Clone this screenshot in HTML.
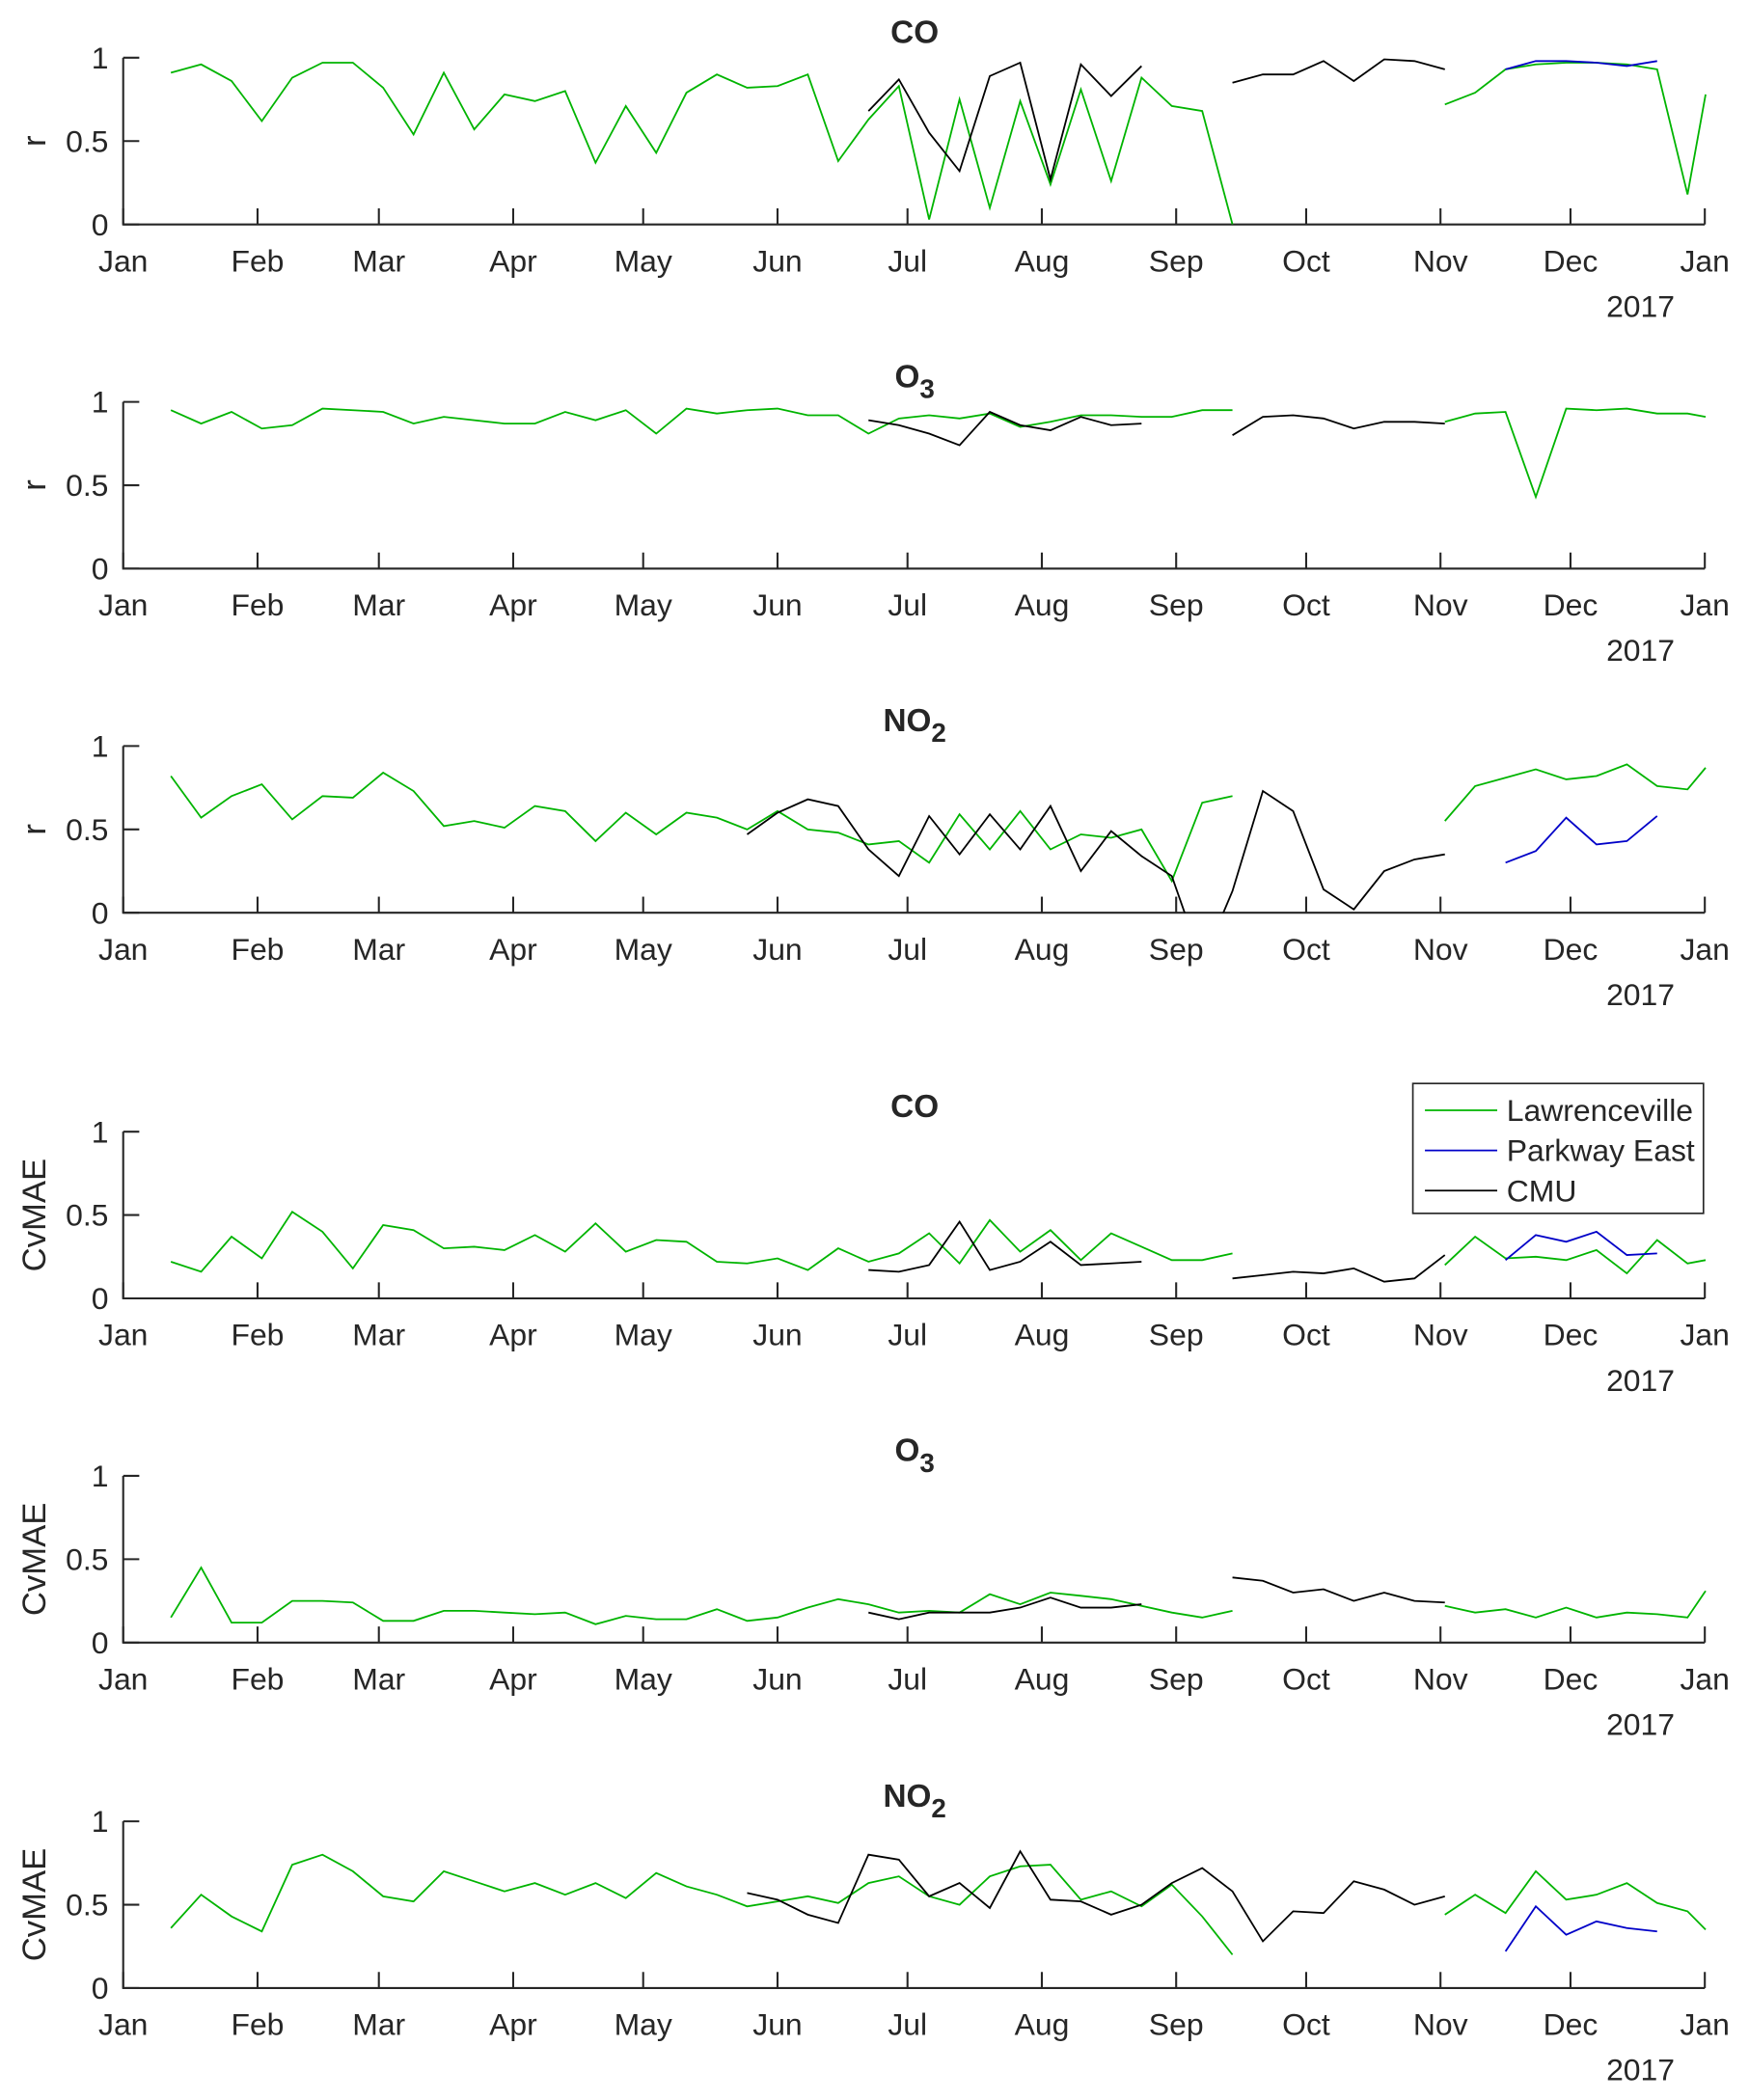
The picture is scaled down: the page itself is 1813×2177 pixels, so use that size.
<!DOCTYPE html>
<html><head><meta charset="utf-8">
<style>
html,body{margin:0;padding:0;background:#fff;}
svg{display:block;}
text{font-family:"Liberation Sans",Arial,sans-serif;fill:#262626;}
</style></head>
<body>
<svg id="chart" width="1813" height="2177" viewBox="0 0 1306 1568" xmlns="http://www.w3.org/2000/svg"></svg>
<script>
const monthLabels=["Jan","Feb","Mar","Apr","May","Jun","Jul","Aug","Sep","Oct","Nov","Dec","Jan"];
const monthDays=[0,31,59,90,120,151,181,212,243,273,304,334,365];
const yTicks=[0,0.5,1];
const yTickLabels=["0","0.5","1"];
// week indices (day = 11 + 7*w)
const lawWeeksA=[0,1,2,3,4,5,6,7,8,9,10,11,12,13,14,15,16,17,18,19,20,21,22,23,24,25,26,27,28,29,30,31,32,33,34,35];
const lawWeeksB=[42,43,44,45,46,47,48,49,50,50.6];
const cmuWeeksA1=[23,24,25,26,27,28,29,30,31,32];
const cmuWeeksB=[35,36,37,38,39,40,41,42];
const cmuWeeksNO2=[19,20,21,22,23,24,25,26,27,28,29,30,31,32,33,34,35,36,37,38,39,40,41,42];
const pkWeeks=[44,45,46,47,48,49];
// r CO
const rCOLaw=[.91,.96,.86,.62,.88,.97,.97,.82,.54,.91,.57,.78,.74,.80,.37,.71,.43,.79,.90,.82,.83,.90,.38,.63,.83,.03,.75,.10,.74,.24,.81,.26,.88,.71,.68,0];
const rCOLawB=[.72,.79,.93,.96,.97,.97,.96,.93,.18,.78];
const rCOCmu=[.68,.87,.55,.32,.89,.97,.27,.96,.77,.95];
const rCOCmuB=[.85,.90,.90,.98,.86,.99,.98,.93];
const rCOPk=[.93,.98,.98,.97,.95,.98];
// r O3
const rO3Law=[.95,.87,.94,.84,.86,.96,.95,.94,.87,.91,.89,.87,.87,.94,.89,.95,.81,.96,.93,.95,.96,.92,.92,.81,.90,.92,.90,.93,.85,.88,.92,.92,.91,.91,.95,.95];
const rO3LawB=[.88,.93,.94,.43,.96,.95,.96,.93,.93,.91];
const rO3Cmu=[.89,.86,.81,.74,.94,.86,.83,.91,.86,.87];
const rO3CmuB=[.80,.91,.92,.90,.84,.88,.88,.87];
// r NO2
const rNO2Law=[.82,.57,.70,.77,.56,.70,.69,.84,.73,.52,.55,.51,.64,.61,.43,.60,.47,.60,.57,.50,.61,.50,.48,.41,.43,.30,.59,.38,.61,.38,.47,.45,.50,.19,.66,.70];
const rNO2LawB=[.55,.76,.81,.86,.80,.82,.89,.76,.74,.87];
const rNO2Cmu=[.47,.60,.68,.64,.38,.22,.58,.35,.59,.38,.64,.25,.49,.34,.22,-.3,.13,.73,.61,.14,.02,.25,.32,.35];
const rNO2Pk=[.30,.37,.57,.41,.43,.58];
// CvMAE CO
const cCOLaw=[.22,.16,.37,.24,.52,.40,.18,.44,.41,.30,.31,.29,.38,.28,.45,.28,.35,.34,.22,.21,.24,.17,.30,.22,.27,.39,.21,.47,.28,.41,.23,.39,.31,.23,.23,.27];
const cCOLawB=[.20,.37,.24,.25,.23,.29,.15,.35,.21,.23];
const cCOCmu=[.17,.16,.20,.46,.17,.22,.34,.20,.21,.22];
const cCOCmuB=[.12,.14,.16,.15,.18,.10,.12,.26];
const cCOPk=[.23,.38,.34,.40,.26,.27];
// CvMAE O3
const cO3Law=[.15,.45,.12,.12,.25,.25,.24,.13,.13,.19,.19,.18,.17,.18,.11,.16,.14,.14,.20,.13,.15,.21,.26,.23,.18,.19,.18,.29,.23,.30,.28,.26,.22,.18,.15,.19];
const cO3LawB=[.22,.18,.20,.15,.21,.15,.18,.17,.15,.31];
const cO3Cmu=[.18,.14,.18,.18,.18,.21,.27,.21,.21,.23];
const cO3CmuB=[.39,.37,.30,.32,.25,.30,.25,.24];
// CvMAE NO2
const cNO2Law=[.36,.56,.43,.34,.74,.80,.70,.55,.52,.70,.64,.58,.63,.56,.63,.54,.69,.61,.56,.49,.52,.55,.51,.63,.67,.55,.50,.67,.73,.74,.53,.58,.49,.62,.43,.20];
const cNO2LawB=[.44,.56,.45,.70,.53,.56,.63,.51,.46,.35];
const cNO2Cmu=[.57,.53,.44,.39,.80,.77,.55,.63,.48,.82,.53,.52,.44,.50,.63,.72,.58,.28,.46,.45,.64,.59,.50,.55];
const cNO2Pk=[.22,.49,.32,.40,.36,.34];

const GREEN="#00b400",BLUE="#0000c8",BLACK="#000";
const svg=document.getElementById('chart');
const NS="http://www.w3.org/2000/svg";
const X0=92,X1=1273;
function xDay(d){return X0+(X1-X0)*d/365;}
function xWeek(w){return xDay(11+7*w);}
function mk(tag,attrs,parent){const e=document.createElementNS(NS,tag);for(const k in attrs)e.setAttribute(k,attrs[k]);(parent||svg).appendChild(e);return e;}

const panels=[
 {top:43,title:"CO",sub:"",ylab:"r",series:[[lawWeeksA,rCOLaw,GREEN],[lawWeeksB,rCOLawB,GREEN],[cmuWeeksA1,rCOCmu,BLACK],[cmuWeeksB,rCOCmuB,BLACK],[pkWeeks,rCOPk,BLUE]]},
 {top:300,title:"O",sub:"3",ylab:"r",series:[[lawWeeksA,rO3Law,GREEN],[lawWeeksB,rO3LawB,GREEN],[cmuWeeksA1,rO3Cmu,BLACK],[cmuWeeksB,rO3CmuB,BLACK]]},
 {top:557,title:"NO",sub:"2",ylab:"r",series:[[lawWeeksA,rNO2Law,GREEN],[lawWeeksB,rNO2LawB,GREEN],[cmuWeeksNO2,rNO2Cmu,BLACK],[pkWeeks,rNO2Pk,BLUE]]},
 {top:845,title:"CO",sub:"",ylab:"CvMAE",series:[[lawWeeksA,cCOLaw,GREEN],[lawWeeksB,cCOLawB,GREEN],[cmuWeeksA1,cCOCmu,BLACK],[cmuWeeksB,cCOCmuB,BLACK],[pkWeeks,cCOPk,BLUE]],legend:true},
 {top:1102,title:"O",sub:"3",ylab:"CvMAE",series:[[lawWeeksA,cO3Law,GREEN],[lawWeeksB,cO3LawB,GREEN],[cmuWeeksA1,cO3Cmu,BLACK],[cmuWeeksB,cO3CmuB,BLACK]]},
 {top:1360,title:"NO",sub:"2",ylab:"CvMAE",series:[[lawWeeksA,cNO2Law,GREEN],[lawWeeksB,cNO2LawB,GREEN],[cmuWeeksNO2,cNO2Cmu,BLACK],[pkWeeks,cNO2Pk,BLUE]]}
];
const H=124.5;
panels.forEach((p,pi)=>{
 const g=mk('g',{});
 
 
 const bot=p.top+H;
 const y=v=>bot-H*v;
 const cp=mk('clipPath',{id:'clip'+pi},g);
 mk('rect',{x:X0,y:p.top-2,width:X1-X0+2,height:H+2},cp);
 const t=mk('text',{x:683,y:p.top-11,'font-size':24,'font-weight':'bold','text-anchor':'middle',fill:'#000'},g);
 
 
 t.textContent=p.title;
 if(p.sub){const s=mk('tspan',{'font-size':20,dy:8},t);s.textContent=p.sub;}
 const yl=mk('text',{x:0,y:0,'font-size':25,'text-anchor':'middle',transform:`translate(34,${p.top+H/2}) rotate(-90)`},g);
 
 
 yl.textContent=p.ylab;
 const ax=mk('path',{d:`M${X0},${p.top} V${bot} H${X1}`,stroke:'#262626','stroke-width':1.5,fill:'none'},g);
 
 
 yTicks.forEach((v,i)=>{
  mk('line',{x1:X0,x2:X0+12,y1:y(v),y2:y(v),stroke:'#262626','stroke-width':1.5},g);
  const tl=mk('text',{x:X0-11,y:y(v)+8,'font-size':23,'text-anchor':'end'},g);
  
  
  tl.textContent=yTickLabels[i];
 });
 monthDays.forEach((d,i)=>{
  const x=xDay(d);
  mk('line',{x1:x,x2:x,y1:bot,y2:bot-12,stroke:'#262626','stroke-width':1.5},g);
  const tl=mk('text',{x:x,y:bot+35,'font-size':23,'text-anchor':'middle'},g);
  
  
  tl.textContent=monthLabels[i];
 });
 const yr=mk('text',{x:1225,y:bot+69,'font-size':23,'text-anchor':'middle'},g);
 
 
 yr.textContent="2017";
 p.series.forEach(([ws,vals,col])=>{
  const d=ws.map((w,i)=>(i?'L':'M')+xWeek(w).toFixed(1)+','+y(vals[i]).toFixed(1)).join(' ');
  const ln=mk('path',{d:d,stroke:col,'stroke-width':1.3,fill:'none','clip-path':`url(#clip${pi})`},g);
  
  
 });
 if(p.legend){
  const lg=mk('g',{},g);
  
  
  mk('rect',{x:1055,y:809,width:217,height:97,fill:'#fff',stroke:'#262626','stroke-width':1.2},lg);
  [["Lawrenceville",GREEN],["Parkway East",BLUE],["CMU",BLACK]].forEach(([n,c],i)=>{
   const yy=829+i*30;
   mk('line',{x1:1064,x2:1118,y1:yy,y2:yy,stroke:c,'stroke-width':1.3},lg);
   const lt=mk('text',{x:1125,y:yy+8,'font-size':23,fill:'#000'},lg);
   
   
   lt.textContent=n;
  });
 }
});
</script>
</body></html>
